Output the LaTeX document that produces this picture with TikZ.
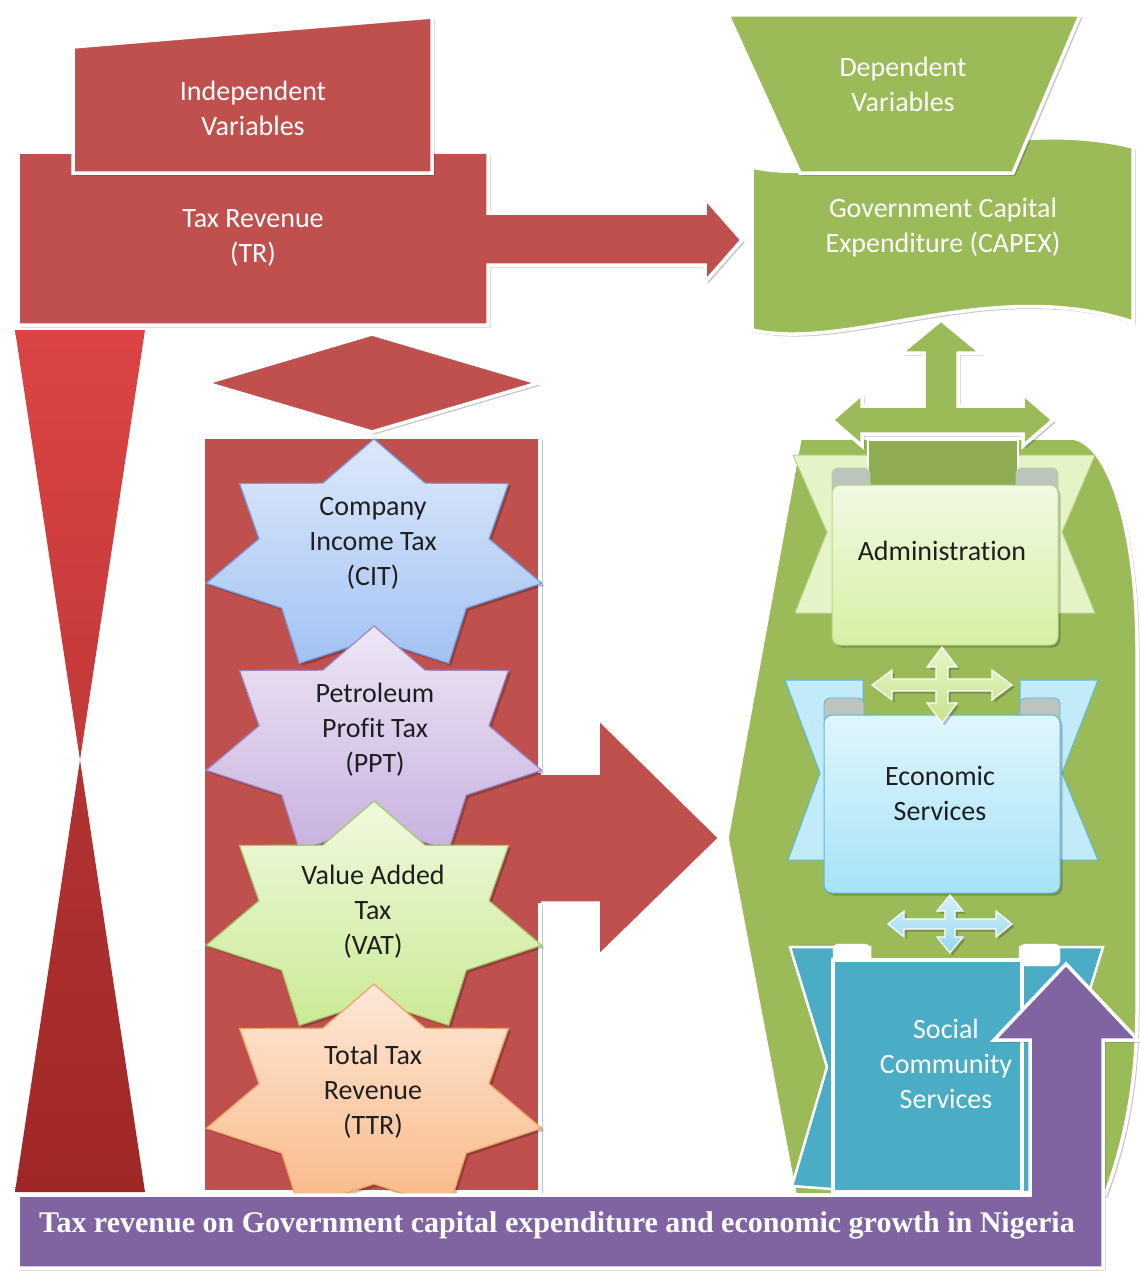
\documentclass[tikz,border=0pt]{standalone}
\usepackage{fontspec}
\setmainfont{Carlito}[Ligatures=NoCommon]
\newfontfamily\tnr{Liberation Serif}
\usetikzlibrary{shadows}
\definecolor{ored}{HTML}{C0504D}
\definecolor{ogreen}{HTML}{9BBB59}
\definecolor{opurple}{HTML}{8064A2}
\definecolor{oteal}{HTML}{4BACC6}
\definecolor{hgA}{HTML}{DC4444}
\definecolor{hgB}{HTML}{C23838}
\definecolor{hgC}{HTML}{B33333}
\definecolor{hgD}{HTML}{A02727}
\definecolor{citA}{HTML}{DDE9FB}
\definecolor{citB}{HTML}{A3C2F3}
\definecolor{citL}{HTML}{6F9FE0}
\definecolor{pptA}{HTML}{EEE6F5}
\definecolor{pptB}{HTML}{C8B1E0}
\definecolor{pptL}{HTML}{9B85C2}
\definecolor{vatA}{HTML}{F0F9DE}
\definecolor{vatB}{HTML}{CBEA96}
\definecolor{vatL}{HTML}{A6C86A}
\definecolor{ttrA}{HTML}{FDE8D8}
\definecolor{ttrB}{HTML}{F9B987}
\definecolor{ttrL}{HTML}{F2A063}
\definecolor{admA}{HTML}{F1F9E2}
\definecolor{admB}{HTML}{D6F0A4}
\definecolor{admL}{HTML}{B9D48C}
\definecolor{admBack}{HTML}{E4F4C6}
\definecolor{ecoA}{HTML}{E0F6FD}
\definecolor{ecoB}{HTML}{A6E2F7}
\definecolor{ecoL}{HTML}{5DB7D6}
\definecolor{ecoBack}{HTML}{C2EBF9}
\definecolor{curl}{HTML}{BCC4BE}
\definecolor{gxA}{HTML}{E6F5C9}
\definecolor{gxB}{HTML}{C6E48C}
\definecolor{bxA}{HTML}{D3F1FB}
\definecolor{bxB}{HTML}{96D8F0}
\newcommand\sevstar[4]{%
  \path[draw=#4, line width=1.2pt, top color=#2, bottom color=#3, shad]
    plot[samples at={0,...,13}, variable=\k]
      ({374 + ifthenelse(mod(\k,2)==0,172,118)*cos(90+\k*180/7)},
       {#1 - ifthenelse(mod(\k,2)==0,118,82)*sin(90+\k*180/7)}) -- cycle;}
\newcommand\quadarrow[9]{% cx cy hx vy s h l fill-top fill-bottom
  \path[draw=white, line width=1.2pt, top color=#8, bottom color=#9, shad]
   ({#1},{#2-#4}) -- ({#1+#6},{#2-#4+#7}) -- ({#1+#5},{#2-#4+#7}) -- ({#1+#5},{#2-#5})
   -- ({#1+#3-#7},{#2-#5}) -- ({#1+#3-#7},{#2-#6}) -- ({#1+#3},{#2}) -- ({#1+#3-#7},{#2+#6})
   -- ({#1+#3-#7},{#2+#5}) -- ({#1+#5},{#2+#5}) -- ({#1+#5},{#2+#4-#7}) -- ({#1+#6},{#2+#4-#7})
   -- ({#1},{#2+#4}) -- ({#1-#6},{#2+#4-#7}) -- ({#1-#5},{#2+#4-#7}) -- ({#1-#5},{#2+#5})
   -- ({#1-#3+#7},{#2+#5}) -- ({#1-#3+#7},{#2+#6}) -- ({#1-#3},{#2}) -- ({#1-#3+#7},{#2-#6})
   -- ({#1-#3+#7},{#2-#5}) -- ({#1-#5},{#2-#5}) -- ({#1-#5},{#2-#4+#7}) -- ({#1-#6},{#2-#4+#7}) -- cycle;}
\begin{document}
\begin{tikzpicture}[x=1pt,y=-1pt,line join=miter,
  wb/.style={draw=white,line width=3.5pt},
  shad/.style={drop shadow={shadow xshift=2.5pt,shadow yshift=-2.5pt,opacity=0.22,fill=black}},
  wtxt/.style={text=white,font=\fontsize{28}{35}\selectfont,align=center,inner sep=0pt},
  btxt/.style={text=black!88,font=\fontsize{28}{35}\selectfont,align=center,inner sep=0pt}]
\useasboundingbox (0,0) rectangle (1140,1271);
\fill[white] (0,0) rectangle (1140,1271);

% ---- left, red part ----
\path[fill=ored, wb, shad] (18,152) -- (488,152) -- (488,213) -- (705,213) -- (705,198)
  -- (742,240) -- (705,282) -- (705,265) -- (488,265) -- (488,325) -- (18,325) -- cycle;
\path[fill=ored, wb, shad] (73,47) -- (432,17) -- (432,173) -- (73,173) -- cycle;

\path[top color=hgA, bottom color=hgB] (15,330) -- (145,330) -- (80,760) -- cycle;
\path[top color=hgC, bottom color=hgD] (80,760) -- (145,1192) -- (15,1192) -- cycle;

\path[fill=ored, wb, shad] (372,334) -- (538,383) -- (372,432) -- (206,383) -- cycle;
\path[fill=ored, wb, shad] (203,437) rectangle (540,1192);

\fill[ored] (536,773) -- (598,773) -- (598,718) -- (720,838) -- (598,957) -- (598,903) -- (536,903) -- cycle;
\draw[white, line width=3.5pt] (541,773) -- (598,773) -- (598,718) -- (720,838) -- (598,957) -- (598,903) -- (541,903);

\sevstar{557}{citA}{citB}{citL}
\sevstar{744}{pptA}{pptB}{pptL}
\sevstar{919}{vatA}{vatB}{vatL}
\sevstar{1102}{ttrA}{ttrB}{ttrL}

% ---- right, green part ----
\path[fill=ogreen, wb, shad] (800,438) -- (1070,438) .. controls (1105,438) and (1137,520) .. (1137,650)
  -- (1137,1010) .. controls (1137,1100) and (1118,1160) .. (1105,1195) -- (795,1195) -- (727,838) -- cycle;

\path[fill=ogreen, wb, shad] (752,167) .. controls (850,190) and (990,112) .. (1133,147) -- (1133,322)
  .. controls (990,275) and (850,352) .. (752,330) -- cycle;
\path[fill=ogreen, wb, shad] (728,15) -- (1080,15) -- (1013,173) -- (800,173) -- cycle;

% Administration ribbon
\path[fill=admBack, draw=admL, line width=1pt] (793,455) -- (868,455) -- (868,613) -- (795,613) -- (827,532) -- cycle;
\path[fill=admBack, draw=admL, line width=1pt] (1095,455) -- (1018,455) -- (1018,613) -- (1095,613) -- (1062,532) -- cycle;
\path[fill=ogreen!92!black, draw=white, line width=2pt] (868,440) rectangle (1018,486);
\path[fill=curl, draw=admL, line width=0.8pt, rounded corners=6pt] (832,468) rectangle (870,495);
\path[fill=curl, draw=admL, line width=0.8pt, rounded corners=6pt] (1016,468) rectangle (1058,495);
\path[top color=admA, bottom color=admB, draw=admL, line width=1pt, rounded corners=8pt, shad] (832,485) rectangle (1058,645);

% Economic ribbon
\path[fill=ecoBack, draw=ecoL, line width=1pt] (785,680) -- (863,680) -- (863,860) -- (788,860) -- (820,773) -- cycle;
\path[fill=ecoBack, draw=ecoL, line width=1pt] (1098,680) -- (1020,680) -- (1020,860) -- (1098,860) -- (1062,773) -- cycle;
\path[fill=curl, draw=ecoL, line width=0.8pt, rounded corners=6pt] (824,698) rectangle (864,725);
\path[fill=curl, draw=ecoL, line width=0.8pt, rounded corners=6pt] (1020,698) rectangle (1060,725);
\path[top color=ecoA, bottom color=ecoB, draw=ecoL, line width=1pt, rounded corners=8pt, shad] (824,715) rectangle (1060,893);

% Social ribbon
\path[fill=oteal, draw=white, line width=2.5pt] (790,947) -- (870,947) -- (870,1192) -- (792,1186) -- (827,1067) -- cycle;
\path[fill=oteal, draw=white, line width=2.5pt] (1103,947) -- (1020,947) -- (1020,1192) -- (1103,1192) -- (1066,1067) -- cycle;
\path[fill=white, draw=white, rounded corners=5pt] (833,944) rectangle (870,966);
\path[fill=white, draw=white, rounded corners=5pt] (1020,944) rectangle (1060,966);
\path[fill=oteal, draw=white, line width=4pt] (833,960) rectangle (1022,1192);

% block arrows
\quadarrow{942}{685}{70}{38}{6}{15}{20}{gxA}{gxB}
\quadarrow{950}{924}{62}{29}{5}{13}{16}{bxA}{bxB}
\path[fill=ogreen, wb, shad] (941,320) -- (981,353) -- (958,353) -- (958,406) -- (1023,406) -- (1023,394)
  -- (1053,420) -- (1023,446) -- (1023,434) -- (862,434) -- (862,446) -- (832,420) -- (862,394)
  -- (862,406) -- (924,406) -- (924,353) -- (901,353) -- cycle;

% purple banner arrow
\path[fill=opurple, wb, shad] (18,1195) -- (1030,1195) -- (1030,1040) -- (994,1040) -- (1066,964)
  -- (1138,1040) -- (1103,1040) -- (1103,1268) -- (18,1268) -- cycle;

% ---- texts ----
\node[wtxt] (indep) at (253,108) {Independent\\Variables};
\node[wtxt] (tr) at (253,238) {Tax Revenue\\(TR)};
\node[wtxt] (dep) at (903,84) {Dependent\\Variables};
\node[wtxt] (capex) at (943,228) {Government Capital\\Expenditure (CAPEX)};
\node[btxt] (cit) at (373,543) {Company\\Income Tax\\(CIT)};
\node[btxt] (ppt) at (375,730) {Petroleum\\Profit Tax\\(PPT)};
\node[btxt] (vat) at (373,912) {Value Added\\Tax\\(VAT)};
\node[btxt] (ttr) at (373,1092) {Total Tax\\Revenue\\(TTR)};
\node[btxt] (adm) at (942,551) {Administration};
\node[btxt] (eco) at (940,793) {Economic\\Services};
\node[wtxt] (soc) at (946,1064) {Social\\Community\\Services};
\node[text=white, inner sep=0pt, font=\tnr\bfseries\fontsize{30}{36}\selectfont] (title) at (557,1225)
  {Tax revenue on Government capital expenditure and economic growth in Nigeria};
\end{tikzpicture}
\end{document}
